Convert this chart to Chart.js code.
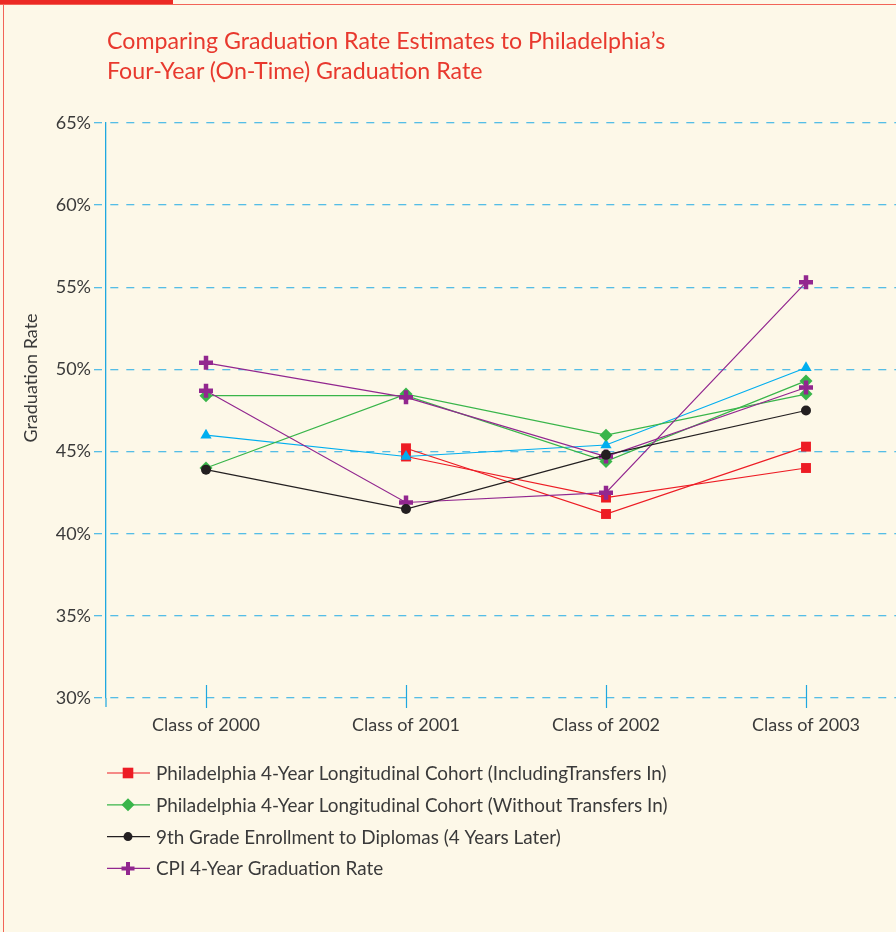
<!DOCTYPE html>
<html>
<head>
<meta charset="utf-8">
<script src="https://cdn.jsdelivr.net/npm/chart.js@4.4.1/dist/chart.umd.min.js"></script>
<style>
  html, body { margin: 0; padding: 0; }
  body { width: 896px; height: 932px; overflow: hidden; background: #fdf8e8; position: relative; font-family: Lato, sans-serif; }
  canvas { position: absolute; left: 0; top: 0; }
  #frameBar { position: absolute; left: 0; top: 0; width: 173px; height: 4px; background: #ec2a24; }
  #frameTop { position: absolute; left: 0; top: 4px; width: 896px; height: 1px; background: #f26457; }
  #frameLeft { position: absolute; left: 3px; top: 4px; width: 1px; height: 928px; background: #f26457; }
  #title { position: absolute; left: 107px; top: 25px; color: #e8392e; font-size: 23.2px; line-height: 30px; white-space: nowrap; }
</style>
</head>
<body>
<canvas id="gradChart" width="920" height="932"></canvas>
<div id="frameBar"></div>
<div id="frameTop"></div>
<div id="frameLeft"></div>
<div id="title">Comparing Graduation Rate Estimates to Philadelphia’s<br>Four-Year (On-Time) Graduation Rate</div>
<script>
const categories = ['Class of 2000', 'Class of 2001', 'Class of 2002', 'Class of 2003']
const yTickLabels = ['30%', '35%', '40%', '45%', '50%', '55%', '60%', '65%']
const yTitle = 'Graduation Rate'

// two estimates per series in the picture
const inclTransfersA = [null, 45.2, 41.2, 45.3]
const inclTransfersB = [null, 44.7, 42.2, 44.0]
const withoutTransfersA = [48.4, 48.4, 44.4, 49.3]
const withoutTransfersB = [44.0, 48.5, 46.0, 48.5]
const ninthGrade = [43.9, 41.5, 44.8, 47.5]
const cpiA = [50.4, 48.3, 44.7, 48.9]
const cpiB = [48.7, 41.9, 42.5, 55.3]
const otherEstimate = [46.0, 44.7, 45.4, 50.1]

const legendLabels = [
  'Philadelphia 4-Year Longitudinal Cohort (IncludingTransfers In)',
  'Philadelphia 4-Year Longitudinal Cohort (Without Transfers In)',
  '9th Grade Enrollment to Diplomas (4 Years Later)',
  'CPI 4-Year Graduation Rate'
]

const RED = '#ed1c24'
const GREEN = '#39b54a'
const BLACK = '#231f20'
const PURPLE = '#92278f'
const BLUE = '#00aeef'
const GRID = '#55bde6'
const AXIS = '#1fa8e0'
const TEXT = '#3a3a3a'

const legendStyles = [
  { color: RED, pointStyle: 'rect', radius: 7.5, borderWidth: 0 },
  { color: GREEN, pointStyle: 'rectRot', radius: 6.5, borderWidth: 0 },
  { color: BLACK, pointStyle: 'circle', radius: 4.5, borderWidth: 0 },
  { color: PURPLE, pointStyle: 'cross', radius: 6.5, borderWidth: 4 }
]

const series = (label, data, color, pointStyle, radius, pointBorderWidth) => ({
  label,
  data,
  borderColor: color,
  backgroundColor: color,
  borderWidth: 1.2,
  tension: 0,
  pointStyle,
  pointRadius: radius,
  pointHoverRadius: radius,
  pointBackgroundColor: color,
  pointBorderColor: color,
  pointBorderWidth: pointBorderWidth
})

// first dataset is drawn on top
const datasets = [
  series('9th Grade', ninthGrade, BLACK, 'circle', 5, 0),
  series('CPI A', cpiA, PURPLE, 'cross', 7, 4.5),
  series('CPI B', cpiB, PURPLE, 'cross', 7, 4.5),
  series('Without A', withoutTransfersA, GREEN, 'rectRot', 6.5, 0),
  series('Without B', withoutTransfersB, GREEN, 'rectRot', 6.5, 0),
  series('Other', otherEstimate, BLUE, 'triangle', 6.5, 0),
  series('Incl A', inclTransfersA, RED, 'rect', 7, 0),
  series('Incl B', inclTransfersB, RED, 'rect', 7, 0)
]

const xTickMarks = {
  id: 'xTickMarks',
  beforeDatasetsDraw(chart) {
    const c = chart.ctx
    const xScale = chart.scales.x
    const bottom = chart.chartArea.bottom
    c.save()
    c.strokeStyle = AXIS
    c.lineWidth = 1.2
    c.beginPath()
    c.moveTo(chart.chartArea.left, bottom)
    c.lineTo(chart.chartArea.left, bottom + 9)
    categories.forEach((_, i) => {
      const x = Math.round(xScale.getPixelForValue(i)) + 0.5
      c.moveTo(x, bottom - 13)
      c.lineTo(x, bottom + 10)
    })
    c.stroke()
    c.restore()
  }
}

// y title sits a bit above the middle of the axis in the original
const yAxisTitle = {
  id: 'yAxisTitle',
  afterDraw(chart) {
    const c = chart.ctx
    c.save()
    c.translate(31, 378)
    c.rotate(-Math.PI / 2)
    c.font = '18px Lato'
    c.fillStyle = TEXT
    c.textAlign = 'center'
    c.textBaseline = 'middle'
    c.fillText(yTitle, 0, 0)
    c.restore()
  }
}

const seriesLegend = {
  id: 'seriesLegend',
  afterDraw(chart) {
    const c = chart.ctx
    const left = chart.chartArea.left + 1
    c.save()
    c.font = '18.9px Lato'
    c.textBaseline = 'middle'
    legendLabels.forEach((text, i) => {
      const st = legendStyles[i]
      const y = 773 + i * 31.8
      c.strokeStyle = st.color
      c.lineWidth = 1.2
      c.beginPath()
      c.moveTo(left, y)
      c.lineTo(left + 43, y)
      c.stroke()
      c.fillStyle = st.color
      c.lineWidth = st.borderWidth || 1
      Chart.helpers.drawPoint(c, { pointStyle: st.pointStyle, radius: st.radius, borderWidth: st.borderWidth, rotation: 0 }, left + 21, y)
      c.fillStyle = TEXT
      c.fillText(text, left + 49, y + 1)
    })
    c.restore()
  }
}

new Chart(document.getElementById('gradChart'), {
  type: 'line',
  data: { labels: categories, datasets },
  options: {
    responsive: false,
    animation: false,
    layout: { padding: { left: 0, top: 123, right: 14, bottom: 194 } },
    plugins: {
      legend: { display: false },
      tooltip: { enabled: false }
    },
    scales: {
      x: {
        offset: true,
        grid: { display: false, drawTicks: false },
        border: { display: false },
        ticks: {
          autoSkip: false,
          maxRotation: 0,
          padding: 16,
          color: TEXT,
          font: { family: 'Lato', size: 18 }
        },
        afterFit: scale => { scale.height = 40 }
      },
      y: {
        min: 30,
        max: 65,
        ticks: {
          stepSize: 5,
          padding: 3,
          color: TEXT,
          font: { family: 'Lato', size: 18 },
          callback: (v, i) => yTickLabels[i]
        },
        grid: {
          color: GRID,
          lineWidth: 1.3,
          tickLength: 12,
          tickBorderDash: [8, 8]
        },
        border: { display: true, color: AXIS, width: 1.3, dash: [8, 8], dashOffset: 12 },
        afterFit: scale => { scale.width = 106 }
      }
    }
  },
  plugins: [xTickMarks, yAxisTitle, seriesLegend]
})
</script>
</body>
</html>
